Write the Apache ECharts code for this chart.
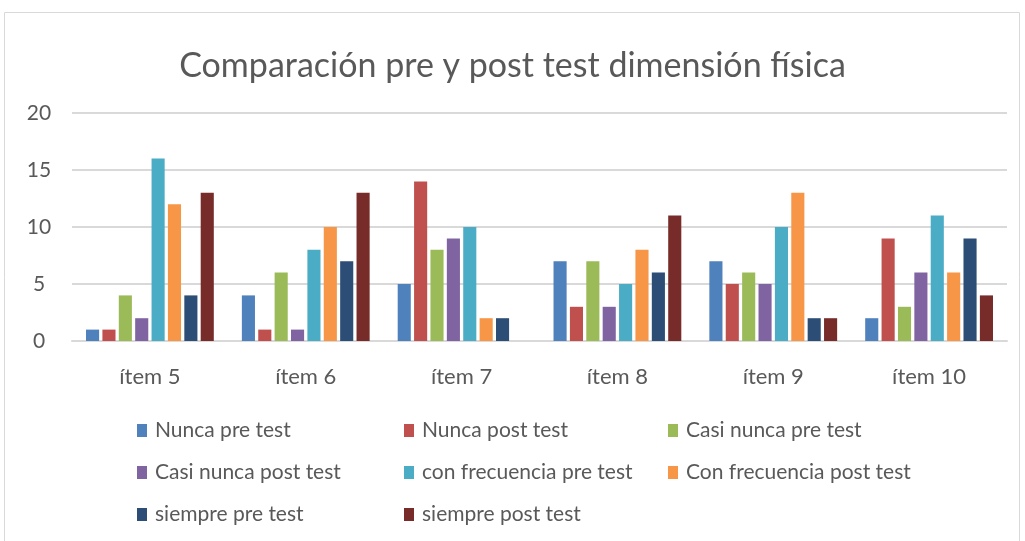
<!DOCTYPE html>
<html>
<head>
<meta charset="utf-8">
<script src="https://cdn.jsdelivr.net/npm/echarts@6/dist/echarts.min.js"></script>
<style>
  html, body { margin: 0; padding: 0; background: #fff; }
  #main { width: 1025px; height: 541px; }
</style>
</head>
<body>
<div id="main"></div>
<script>
var items = ['ítem 5', 'ítem 6', 'ítem 7', 'ítem 8', 'ítem 9', 'ítem 10'];

var nuncaPre = [1, 4, 5, 7, 7, 2];
var nuncaPost = [1, 1, 14, 3, 5, 9];
var casiNuncaPre = [4, 6, 8, 7, 6, 3];
var casiNuncaPost = [2, 1, 9, 3, 5, 6];
var conFrecPre = [16, 8, 10, 5, 10, 11];
var conFrecPost = [12, 10, 2, 8, 13, 6];
var siemprePre = [4, 7, 2, 6, 2, 9];
var siemprePost = [13, 13, 0, 11, 2, 4];

var names = ['Nunca pre test', 'Nunca post test', 'Casi nunca pre test',
  'Casi nunca post test', 'con frecuencia pre test', 'Con frecuencia post test',
  'siempre pre test', 'siempre post test'];
var colors = ['#4f81bd', '#c0504d', '#9bbb59', '#8064a2', '#4bacc6', '#f79646', '#2c4d75', '#772c2a'];
var values = [nuncaPre, nuncaPost, casiNuncaPre, casiNuncaPost, conFrecPre, conFrecPost, siemprePre, siemprePost];

var font = 'Lato, "Open Sans", sans-serif';
var textColor = '#595959';

var chart = echarts.init(document.getElementById('main'));

var series = names.map(function(n, i) {
  return {
    name: n,
    type: 'bar',
    data: values[i],
    itemStyle: { color: colors[i] },
    barGap: '25%',
    barCategoryGap: '18%'
  };
});

function legendCol(left, data) {
  return {
    orient: 'vertical',
    left: left,
    top: 415,
    itemGap: 21,
    itemWidth: 10,
    itemHeight: 13,
    icon: 'rect',
    data: data,
    textStyle: { fontFamily: font, fontSize: 21, color: textColor, padding: [0, 0, 0, 3] }
  };
}

var option = {
  animation: false,
  title: {
    text: 'Comparación pre y post test dimensión física',
    left: 'center',
    top: 44,
    textStyle: { fontFamily: font, fontSize: 34, fontWeight: 'normal', color: textColor }
  },
  graphic: [{
    type: 'rect',
    shape: { x: 4.5, y: 12.5, width: 1015, height: 540 },
    style: { fill: 'none', stroke: '#d9d9d9', lineWidth: 1 },
    silent: true
  }],
  legend: [
    legendCol(132, [names[0], names[3], names[6]]),
    legendCol(399, [names[1], names[4], names[7]]),
    legendCol(663, [names[2], names[5]])
  ],
  grid: { left: 72, right: 18, top: 113, height: 228, containLabel: false },
  xAxis: {
    type: 'category',
    data: items,
    axisLine: { lineStyle: { color: '#d9d9d9', width: 2 } },
    axisTick: { show: false },
    axisLabel: { fontFamily: font, fontSize: 22, color: textColor, margin: 25 }
  },
  yAxis: {
    type: 'value',
    min: 0,
    max: 20,
    interval: 5,
    axisLine: { show: false },
    axisTick: { show: false },
    axisLabel: { fontFamily: font, fontSize: 21, color: textColor, margin: 33, align: 'center' },
    splitLine: { lineStyle: { color: '#d9d9d9', width: 2 } }
  },
  series: series
};

chart.setOption(option);
</script>
</body>
</html>
